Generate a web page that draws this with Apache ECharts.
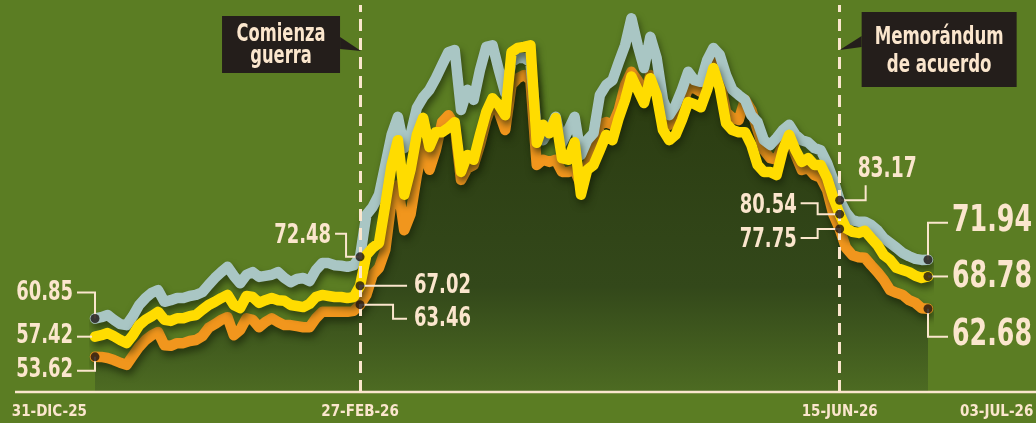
<!DOCTYPE html>
<html>
<head>
<meta charset="utf-8">
<script src="https://cdn.jsdelivr.net/npm/echarts@6/dist/echarts.min.js"></script>
<style>
html,body{margin:0;padding:0;background:#5b7d23;}
#c{width:1036px;height:423px;}
</style>
</head>
<body>
<div id="c"></div>
<script>
// ---------- DATA ----------
const seriesBlue = [60.85,61.1,61.5,60.6,59.8,59.6,61.3,63.4,64.7,65.7,66.2,64.0,64.3,64.7,64.7,65.1,65.3,65.8,67.2,68.5,69.6,70.6,68.9,67.5,69.1,69.6,68.7,68.9,69.1,69.6,68.5,67.7,68.3,68.5,67.9,70.0,71.3,71.3,70.9,70.8,70.6,70.9,72.48,
  80.4,81.9,84.2,89.8,95.5,98.9,93.0,95.5,100.6,102.6,104.0,106.2,108.7,111.1,111.5,100.2,104.0,102.1,107.7,112.1,112.4,107.7,103.4,109.2,110.0,110.0,109.2,
  96.8,94.5,96.4,98.9,94.0,96.4,98.9,91.7,94.5,95.8,103.0,104.9,105.8,109.2,112.4,117.5,112.4,108.1,114.0,110.0,102.1,99.2,101.1,104.0,107.4,105.8,105.5,109.6,111.9,110.6,106.8,104.0,103.0,102.1,99.2,97.9,94.5,93.6,94.9,96.4,97.4,95.5,94.5,94.1,93.0,92.6,90.2,87.0,83.17,
  80.9,79.4,79.1,79.1,78.5,77.5,76.0,75.1,74.2,73.2,72.6,72.1,71.9,71.94];

const seriesYellow = [57.42,57.7,58.1,57.5,56.8,56.2,57.7,59.6,60.6,61.3,62.1,60.6,60.4,60.9,60.9,61.3,61.5,62.5,63.4,64.0,64.7,65.3,63.4,62.8,65.1,64.9,63.8,64.3,64.7,64.3,64.2,63.4,63.2,63.0,63.6,64.9,65.3,65.1,64.9,64.9,64.7,64.9,67.02,
  72.8,74.2,75.1,82.3,89.8,94.5,84.2,88.9,95.5,98.7,93.2,96.0,96.0,96.8,97.9,88.5,91.7,90.8,95.5,99.8,102.4,101.1,99.2,111.1,111.9,112.1,112.4,
  94.0,97.4,95.8,98.7,91.1,90.8,94.1,84.2,88.9,89.8,92.6,95.5,94.5,98.7,102.1,106.5,104.0,101.5,106.2,103.0,96.4,94.5,95.5,98.3,101.7,101.3,100.7,104.0,108.1,104.3,97.7,96.4,96.0,96.0,93.6,89.8,88.5,88.5,87.9,92.6,95.5,92.6,90.4,91.1,89.8,89.8,87.4,83.6,80.54,
  77.9,77.2,77.0,77.4,76.0,74.7,72.8,71.9,70.4,70.0,69.6,68.9,68.5,68.78];

const seriesOrange = [53.62,53.6,53.4,53.0,52.5,52.1,53.8,55.5,56.8,57.7,58.3,55.8,55.7,56.2,56.2,56.6,56.8,57.5,59.1,59.8,60.6,61.1,57.7,58.7,60.9,60.6,59.2,60.2,60.9,60.2,59.6,59.6,59.4,59.2,59.2,60.9,62.1,62.1,62.1,62.1,62.1,62.3,63.46,
  65.3,69.1,70.4,73.8,83.2,86.0,77.5,80.5,87.9,93.6,88.9,92.6,97.9,99.2,97.4,87.0,89.2,89.8,93.6,98.3,101.5,99.8,96.4,104.9,106.2,106.8,105.8,
  89.8,90.8,90.4,90.8,88.5,88.5,88.9,86.0,89.8,92.6,97.4,97.9,97.4,100.2,104.9,107.4,105.8,102.4,106.8,103.6,98.3,97.4,98.7,101.1,104.3,104.3,103.6,106.2,109.2,105.8,99.8,98.7,98.3,102.1,100.2,96.4,92.6,91.1,90.8,93.6,94.5,91.7,88.9,89.2,87.9,87.4,85.1,80.5,77.75,
  74.2,72.8,72.4,72.3,70.9,69.6,68.1,66.2,65.7,65.3,64.3,63.8,62.8,62.68];

const tickLabels = ['31-DIC-25','27-FEB-26','15-JUN-26','03-JUL-26'];
const eventDates = ['27-FEB-26','15-JUN-26'];
const eventTexts = ['Comienza\nguerra','Memorándum\nde acuerdo'];
const MONTHS = ['ENE','FEB','MAR','ABR','MAY','JUN','JUL','AGO','SEP','OCT','NOV','DIC'];

// trading days (weekdays) 31-DIC-25 .. 03-JUL-26
function tradingDays(y0,m0,d0,y1,m1,d1){
  const out=[]; let t=Date.UTC(y0,m0,d0); const end=Date.UTC(y1,m1,d1);
  while(t<=end){
    const d=new Date(t); const wd=d.getUTCDay();
    if(wd!==0 && wd!==6){
      out.push(String(d.getUTCDate()).padStart(2,'0')+'-'+MONTHS[d.getUTCMonth()]+'-'+String(d.getUTCFullYear()).slice(2));
    }
    t+=86400000;
  }
  return out;
}
const categories = tradingDays(2025,11,31,2026,6,3);

// ---------- STYLE ----------
const FONT = "'Liberation Sans Narrow','DejaVu Sans Condensed','Arial Narrow',sans-serif";
const CREAM = '#fbe6cd';
const C_BLUE = '#a9c6c4', C_YELLOW = '#ffdc00', C_ORANGE = '#f1961d';
const DOT = '#1a1311';

const chart = echarts.init(document.getElementById('c'), null, {renderer:'canvas'});

function lineSeries(name, data, color, z, area){
  const s = {
    type:'line', name, data, z, symbol:'none', silent:true, animation:false,
    emphasis:{disabled:true},
    lineStyle:{color, width:10.5, cap:'round', join:'round',
      shadowColor:'rgba(22,32,6,0.6)', shadowBlur:7, shadowOffsetX:2, shadowOffsetY:5}
  };
  if(area){
    s.areaStyle = {origin:'start', opacity:1,
      color:new echarts.graphic.LinearGradient(0,40,0,392,[
        {offset:0,color:'#29390f'},{offset:0.7,color:'#33481a'},{offset:1,color:'#4d6b22'}],true)};
  }
  return s;
}

const last = categories.length-1;
const labelPoints = [
  {s:seriesBlue, i:0, dot:true},
  {s:seriesYellow, i:0, dot:false},
  {s:seriesOrange, i:0, dot:true},
  {s:seriesBlue, i:categories.indexOf(eventDates[0]), dot:true},
  {s:seriesYellow, i:categories.indexOf(eventDates[0]), dot:true},
  {s:seriesOrange, i:categories.indexOf(eventDates[0]), dot:true},
  {s:seriesBlue, i:categories.indexOf(eventDates[1]), dot:true},
  {s:seriesYellow, i:categories.indexOf(eventDates[1]), dot:true},
  {s:seriesOrange, i:categories.indexOf(eventDates[1]), dot:true},
  {s:seriesBlue, i:last, dot:true},
  {s:seriesYellow, i:last, dot:true},
  {s:seriesOrange, i:last, dot:true}
];

const AX_FONT = {color:CREAM, fontFamily:FONT, fontWeight:'bold', fontSize:15};
const option = {
  backgroundColor:'#5b7d23',
  animation:false,
  grid:{left:95, right:108, top:5, height:386.9, containLabel:false, outerBoundsMode:'none'},
  xAxis:{
    type:'category', data:categories, boundaryGap:false,
    axisLine:{show:false}, axisTick:{show:false}, splitLine:{show:false},
    axisLabel:Object.assign({
      interval:(idx,val)=>tickLabels.includes(val),
      margin:13,
      alignMinLabel:'right', alignMaxLabel:'left',
      formatter:(val,idx)=> idx===0 ? '{l|'+val+'}' : (idx===last ? '{r|'+val+'}' : val),
      rich:{
        l:Object.assign({padding:[0,8,0,0]},AX_FONT),
        r:Object.assign({padding:[0,0,0,32]},AX_FONT)
      }
    }, AX_FONT)
  },
  yAxis:{type:'value', min:47, max:120, show:false},
  series:[
    lineSeries('naranja', seriesOrange, C_ORANGE, 2, true),
    lineSeries('azul', seriesBlue, C_BLUE, 3, false),
    lineSeries('amarillo', seriesYellow, C_YELLOW, 4, false),
    {
      type:'line', name:'eventos', data:[], z:6, silent:true, animation:false,
      markLine:{symbol:'none', silent:true, animation:false, label:{show:false},
        lineStyle:{color:CREAM, width:3, type:[12,7]},
        data:eventDates.map(d=>({xAxis:d}))}
    },
    {
      type:'scatter', name:'puntos', z:10, silent:true, animation:false,
      symbolSize:9, itemStyle:{color:DOT},
      data:labelPoints.filter(p=>p.dot).map(p=>[p.i, p.s[p.i]])
    }
  ]
};
chart.setOption(option);

// ---------- LABELS (positioned relative to data points) ----------
const specs = [
  {k:0, path:[[0,0],[0,-26],[-18,-26]], t:[-22,-26], align:'right', size:27, sx:0.74},
  {k:1, path:[[-3,0],[-18,0]], t:[-22,-1], align:'right', size:27, sx:0.74},
  {k:2, path:[[0,0],[0,14],[-18,14]], t:[-22,13], align:'right', size:27, sx:0.74},
  {k:3, path:[[0,0],[-14,0],[-14,-23],[-25,-23]], t:[-29,-21], align:'right', size:27, sx:0.74},
  {k:4, path:[[0,0],[47,0]], t:[54,0], align:'left', size:27, sx:0.74},
  {k:5, path:[[0,0],[33,0],[33,14],[47,14]], t:[54,14], align:'left', size:27, sx:0.74},
  {k:6, path:[[0,0],[26,0],[26,-15]], t:[18,-30], align:'left', size:28, sx:0.74},
  {k:7, path:[[0,0],[-22,0],[-22,-11],[-39,-11]], t:[-43,-8], align:'right', size:27, sx:0.74},
  {k:8, path:[[0,0],[-22,0],[-22,9],[-39,9]], t:[-43,11], align:'right', size:27, sx:0.74},
  {k:9, path:[[0,0],[0,-37],[20,-37]], t:[24,-38], align:'left', size:37, sx:0.76},
  {k:10, path:[[0,0],[20,0]], t:[24,1], align:'left', size:37, sx:0.76},
  {k:11, path:[[0,0],[0,28],[20,28]], t:[24,27], align:'left', size:37, sx:0.76}
];

const graphics = [];
// axis baseline across the full width
const yBase = chart.convertToPixel({gridIndex:0},[0,47])[1];
graphics.push({type:'line', z:5, silent:true, shape:{x1:15,y1:yBase,x2:1036,y2:yBase},
  style:{stroke:CREAM, lineWidth:2.5}});

specs.forEach(sp=>{
  const p = labelPoints[sp.k];
  const v = p.s[p.i];
  const [x,y] = chart.convertToPixel({gridIndex:0},[p.i, v]);
  graphics.push({type:'polyline', z:8, silent:true,
    shape:{points:sp.path.map(([dx,dy])=>[x+dx,y+dy])},
    style:{stroke:CREAM, lineWidth:2, fill:null}});
  graphics.push({type:'text', z:20, silent:true, x:x+sp.t[0], y:y+sp.t[1], scaleX:sp.sx,
    style:{text:v.toFixed(2), fill:CREAM, font:'bold '+sp.size+'px '+FONT,
      align:sp.align, verticalAlign:'middle', textAlign:sp.align, textVerticalAlign:'middle'}});
});

// annotation boxes anchored to the event lines
const ev0 = chart.convertToPixel({gridIndex:0},[categories.indexOf(eventDates[0]),120])[0];
const ev1 = chart.convertToPixel({gridIndex:0},[categories.indexOf(eventDates[1]),120])[0];
const BOX = '#241e1b';
graphics.push({type:'rect', z:20, silent:true, shape:{x:ev0-138, y:16, width:118, height:57}, style:{fill:BOX}});
graphics.push({type:'polygon', z:20, silent:true, shape:{points:[[ev0-20,37],[ev0+1,51],[ev0-20,49]]}, style:{fill:BOX}});
graphics.push({type:'text', z:21, silent:true, x:ev0-79, y:45, scaleX:0.725,
  style:{text:eventTexts[0], fill:CREAM, font:'bold 25px '+FONT, lineHeight:22,
    align:'center', verticalAlign:'middle', textAlign:'center', textVerticalAlign:'middle'}});
graphics.push({type:'rect', z:20, silent:true, shape:{x:ev1+22, y:12, width:155, height:75}, style:{fill:BOX}});
graphics.push({type:'polygon', z:20, silent:true, shape:{points:[[ev1+22,36],[ev1,50],[ev1+22,47]]}, style:{fill:BOX}});
graphics.push({type:'text', z:21, silent:true, x:ev1+99.5, y:51, scaleX:0.74,
  style:{text:eventTexts[1], fill:CREAM, font:'bold 25px '+FONT, lineHeight:28,
    align:'center', verticalAlign:'middle', textAlign:'center', textVerticalAlign:'middle'}});

chart.setOption({graphic:graphics});
</script>
</body>
</html>
